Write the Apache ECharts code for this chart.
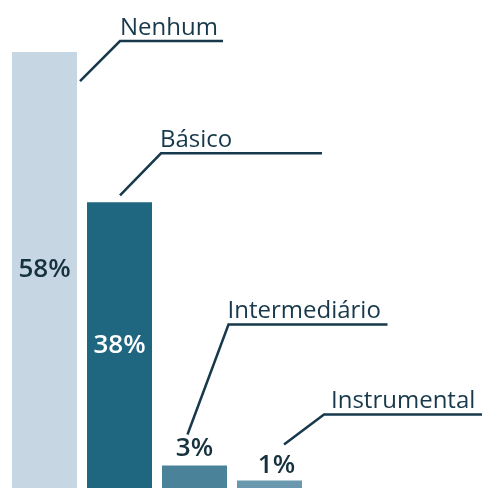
<!DOCTYPE html>
<html>
<head>
<meta charset="utf-8">
<script src="https://cdn.jsdelivr.net/npm/echarts@6/dist/echarts.min.js"></script>
<style>
html,body{margin:0;padding:0;background:#fff;}
#c{width:482px;height:488px;}
</style>
</head>
<body>
<div id="c"></div>
<script>
// ---- data ----
const categories = ['Nenhum', 'Básico', 'Intermediário', 'Instrumental'];
const values = [58, 38, 3, 1];
const valueLabels = ['58%', '38%', '3%', '1%'];

// ---- styling ----
const barColors = ['#c6d7e3', '#1f6680', '#4a8299', '#6a98ae'];
const labelColors = ['#17323f', '#ffffff', '#17323f', '#17323f'];
const labelPositions = ['inside', 'inside', 'top', 'top'];
const labelOffsets = [[0, 0], [0, 0], [0, 0], [7, 2]];
const ink = '#17394b';
// leader line layout, relative to top-centre of each bar
const leaders = [
  { sx: 35.5, sy: 29, cx: 75.5, cy: -11, len: 103, tdx: 0 },
  { sx: 0.5, sy: -7, cx: 41.5, cy: -49, len: 161, tdx: -1 },
  { sx: -7, sy: -31, cx: 34, cy: -141, len: 159, tdx: -1 },
  { sx: 14.5, sy: -36, cx: 54.5, cy: -66, len: 160, tdx: 7 }
];

const chart = echarts.init(document.getElementById('c'), null, { renderer: 'canvas' });

const option = {
  animation: false,
  grid: { left: 7, width: 300, top: 37, height: 454 },
  xAxis: {
    type: 'category', data: categories, show: false
  },
  yAxis: { type: 'value', min: 0, max: 60, show: false },
  series: [{
    type: 'bar',
    barWidth: 65,
    data: values.map((v, i) => ({
      value: v,
      itemStyle: { color: barColors[i] },
      label: {
        show: true,
        position: labelPositions[i],
        distance: 4,
        offset: labelOffsets[i],
        formatter: valueLabels[i],
        color: labelColors[i],
        fontFamily: 'Open Sans',
        fontWeight: 600,
        fontSize: 26
      }
    }))
  }]
};
chart.setOption(option);

function drawLeaders() {
  const elements = [];
  categories.forEach((name, i) => {
    const top = chart.convertToPixel({ gridIndex: 0 }, [i, values[i]]);
    const L = leaders[i];
    const s = [top[0] + L.sx, top[1] + L.sy];
    const c = [top[0] + L.cx, top[1] + L.cy];
    const e = [c[0] + L.len, c[1]];
    elements.push({
      type: 'polyline',
      shape: { points: [s, c, e] },
      style: { stroke: ink, lineWidth: 2.5, fill: null }
    });
    elements.push({
      type: 'text',
      x: c[0] + L.tdx,
      y: c[1] - 1,
      style: {
        text: name,
        fill: ink,
        fontFamily: 'Open Sans',
        fontSize: 24,
        align: 'left',
        verticalAlign: 'bottom'
      }
    });
  });
  chart.setOption({ graphic: { elements: elements } });
}
drawLeaders();
</script>
</body>
</html>
